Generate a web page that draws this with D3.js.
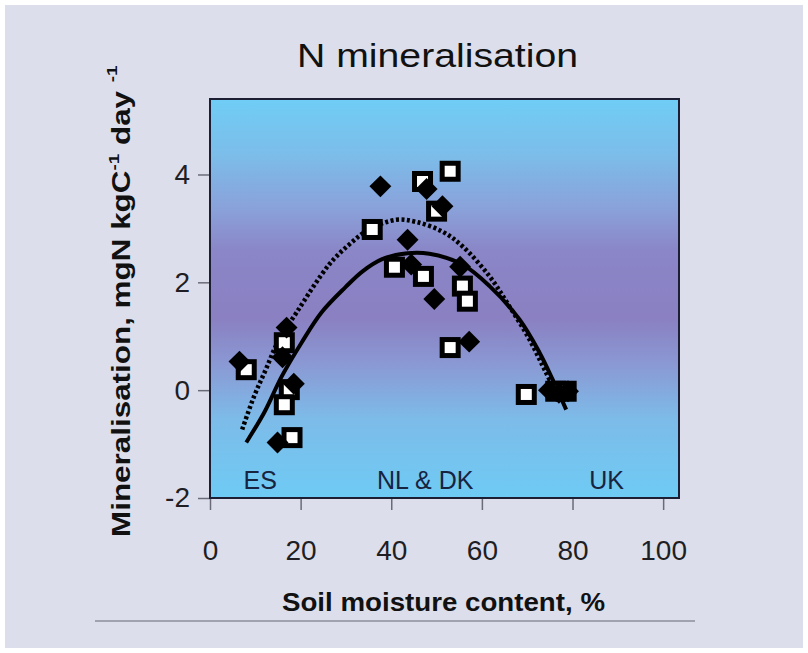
<!DOCTYPE html>
<html>
<head>
<meta charset="utf-8">
<script src="https://cdnjs.cloudflare.com/ajax/libs/d3/7.8.5/d3.min.js"></script>
<style>
  html, body { margin: 0; padding: 0; background: #ffffff; }
  text { font-family: "Liberation Sans", Arial, sans-serif; }
</style>
</head>
<body>
<div id="chart"></div>
<script>
// data
var xTicks = [0, 20, 40, 60, 80, 100];
var yTicks = [-2, 0, 2, 4];

// open squares
var squareX = [8.0, 16.4, 17.5, 16.4, 18.1, 35.8, 40.7, 47.1, 46.9, 53.0, 50.0, 55.7, 56.8, 53.0, 69.8, 76.3, 78.6];
var squareY = [0.38, 0.88, 0.01, -0.27, -0.88, 2.98, 2.28, 2.11, 3.87, 4.06, 3.32, 1.93, 1.65, 0.79, -0.08, -0.02, -0.02];

// filled diamonds
var diamondX = [6.5, 16.9, 16.0, 18.5, 14.9, 37.6, 47.8, 51.3, 43.6, 44.4, 55.2, 49.5, 57.2, 74.8, 77.0, 79.0];
var diamondY = [0.53, 1.16, 0.61, 0.12, -0.97, 3.78, 3.73, 3.41, 2.79, 2.33, 2.29, 1.69, 0.90, 0.0, -0.05, -0.02];

// fitted curves
var solidX = [8.0, 12.0, 15.8, 20.2, 24.6, 29.9, 33.6, 38.0, 43.6, 48.4, 55.7, 61.7, 68.3, 72.7, 75.6, 78.6];
var solidY = [-0.97, -0.41, 0.25, 0.88, 1.44, 1.91, 2.20, 2.43, 2.54, 2.53, 2.33, 1.93, 1.31, 0.70, 0.20, -0.36];
var dottedX = [7.1, 9.7, 12.3, 14.9, 19.1, 26.3, 30.7, 35.1, 41.1, 45.5, 51.3, 55.7, 61.7, 66.1, 70.5, 74.0, 77.3];
var dottedY = [-0.73, -0.12, 0.38, 0.88, 1.44, 2.33, 2.70, 2.98, 3.16, 3.12, 2.94, 2.67, 2.11, 1.55, 0.94, 0.35, -0.20];

var regionLabels = ["ES", "NL & DK", "UK"];
var regionX = [11.1, 47.5, 87.5];

var width = 808, height = 653;
var plotLeft = 210, plotRight = 679, plotTop = 99, plotBottom = 498;

var svg = d3.select('#chart').append('svg')
    .attr('width', width)
    .attr('height', height);

// page background
svg.append('rect')
    .attr('x', 5).attr('y', 5)
    .attr('width', width - 10).attr('height', height - 10)
    .style('fill', '#dcdfeb');

var x = d3.scaleLinear().domain([0, 103.5]).range([plotLeft, plotRight]);
var y = d3.scaleLinear().domain([-2, 5.4]).range([plotBottom, plotTop]);

// gradient for plot area
var grad = svg.append('defs').append('linearGradient')
    .attr('id', 'bg')
    .attr('x1', 0).attr('y1', 0).attr('x2', 0).attr('y2', 1);
var stops = [
    [0, '#6fcdf5'], [0.14, '#7cbdea'], [0.28, '#8aa0d9'], [0.38, '#8a86c7'],
    [0.55, '#8a80c2'], [0.67, '#8a9ad4'], [0.80, '#7dbbe9'], [1, '#6ecbf4']
];
stops.forEach(function (s) {
    grad.append('stop').attr('offset', s[0]).attr('stop-color', s[1]);
});

svg.append('rect')
    .attr('x', plotLeft).attr('y', plotTop)
    .attr('width', plotRight - plotLeft).attr('height', plotBottom - plotTop)
    .style('fill', 'url(#bg)');

// axes
var yAxis = svg.append('g')
    .attr('transform', 'translate(' + plotLeft + ',0)')
    .call(d3.axisLeft(y).tickValues(yTicks).tickSize(12).tickPadding(8));
var xAxis = svg.append('g')
    .attr('transform', 'translate(0,' + plotBottom + ')')
    .call(d3.axisBottom(x).tickValues(xTicks).tickSize(12).tickPadding(30));

[yAxis, xAxis].forEach(function (g) {
    g.select('.domain').remove();
    g.selectAll('.tick line').style('stroke', '#6b6b78').style('stroke-width', 1.5);
    g.selectAll('.tick text')
        .style('font-size', '28px')
        .style('fill', '#1e1e24')
        .style('font-family', '"Liberation Sans", Arial, sans-serif');
});
yAxis.selectAll('.tick text').text(function (d) { return d < 0 ? '-' + Math.abs(d) : d; });

// plot border
svg.append('rect')
    .attr('x', plotLeft).attr('y', plotTop)
    .attr('width', plotRight - plotLeft).attr('height', plotBottom - plotTop)
    .style('fill', 'none')
    .style('stroke', '#1c1f33')
    .style('stroke-width', 2);

// region labels
svg.selectAll('.region').data(regionLabels).enter().append('text')
    .attr('class', 'region')
    .attr('x', function (d, i) { return x(regionX[i]); })
    .attr('y', 489)
    .attr('text-anchor', 'middle')
    .style('font-size', '25px')
    .style('fill', '#17233f')
    .text(function (d) { return d; });

// curves
var line = d3.line()
    .x(function (d) { return x(d[0]); })
    .y(function (d) { return y(d[1]); })
    .curve(d3.curveCatmullRom);

svg.append('path')
    .datum(d3.zip(dottedX, dottedY))
    .attr('d', line)
    .style('fill', 'none')
    .style('stroke', '#000')
    .style('stroke-width', 4.5)
    .style('stroke-dasharray', '3,2.5');

svg.append('path')
    .datum(d3.zip(solidX, solidY))
    .attr('d', line)
    .style('fill', 'none')
    .style('stroke', '#000')
    .style('stroke-width', 4);

// open squares
svg.selectAll('.sq').data(d3.zip(squareX, squareY)).enter().append('rect')
    .attr('class', 'sq')
    .attr('x', function (d) { return x(d[0]) - 8; })
    .attr('y', function (d) { return y(d[1]) - 8; })
    .attr('width', 16).attr('height', 16)
    .style('fill', '#fff')
    .style('stroke', '#000')
    .style('stroke-width', 5);

// filled diamonds (drawn on top)
svg.selectAll('.dm').data(d3.zip(diamondX, diamondY)).enter().append('path')
    .attr('class', 'dm')
    .attr('d', d3.symbol().type(d3.symbolSquare).size(240))
    .attr('transform', function (d) { return 'translate(' + x(d[0]) + ',' + y(d[1]) + ') rotate(45)'; })
    .style('fill', '#000');

// title
svg.append('text')
    .attr('x', 437.5).attr('y', 67)
    .attr('text-anchor', 'middle')
    .attr('textLength', 281)
    .attr('lengthAdjust', 'spacingAndGlyphs')
    .style('font-size', '33px')
    .style('fill', '#111')
    .text('N mineralisation');

// x axis title
svg.append('text')
    .attr('x', 443.5).attr('y', 611)
    .attr('text-anchor', 'middle')
    .attr('textLength', 323)
    .attr('lengthAdjust', 'spacingAndGlyphs')
    .style('font-size', '25px')
    .style('font-weight', 'bold')
    .style('fill', '#111')
    .text('Soil moisture content, %');

// y axis title with superscripts
var yTitleG = svg.append('g');
var yTitle = yTitleG.append('text')
    .style('font-size', '25px')
    .style('font-weight', 'bold')
    .style('fill', '#111');
yTitle.append('tspan').text('Mineralisation, mgN kgC');
yTitle.append('tspan').attr('dy', -11).style('font-size', '15px').text('-1');
yTitle.append('tspan').attr('dy', 11).text(' day ');
yTitle.append('tspan').attr('dy', -13).style('font-size', '15px').text('-1');
var len = yTitle.node().getComputedTextLength();
var targetLen = 472;
yTitle.attr('transform', 'scale(' + (targetLen / len) + ',1)');
yTitleG.attr('transform', 'translate(130,537) rotate(-90)');

// rule under the chart
svg.append('line')
    .attr('x1', 95).attr('x2', 695)
    .attr('y1', 621).attr('y2', 621)
    .style('stroke', '#8c8e9c')
    .style('stroke-width', 1.5);
</script>
</body>
</html>
